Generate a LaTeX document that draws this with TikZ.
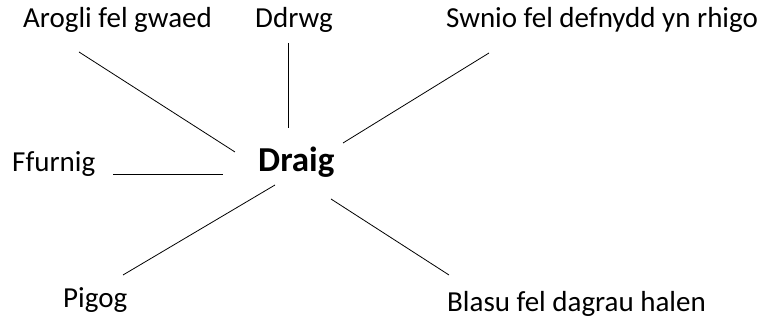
\documentclass[tikz,border=0pt]{standalone}
\usepackage{fontspec}
\setmainfont{Carlito}
\begin{document}
\begin{tikzpicture}[x=1pt,y=1pt,
  lbl/.style={inner sep=0pt,anchor=base west,font=\fontsize{29}{34}\selectfont},
  hub/.style={inner sep=0pt,anchor=base west,font=\fontsize{35}{40}\selectfont\bfseries},
  spoke/.style={line width=0.8pt,black}]
\useasboundingbox (0,0) rectangle (766,320);
\node[lbl] (arogli) at (23,292) {Arogli fel gwaed};
\node[lbl] (ddrwg) at (255,292) {Ddrwg};
\node[lbl] (swnio) at (446,292) {Swnio fel defnydd yn rhigo};
\node[lbl] (ffurnig) at (12,148) {Ffurnig};
\node[hub] (draig) at (258,148) {Draig};
\node[lbl] (pigog) at (63,12) {Pigog};
\node[lbl] (blasu) at (447,8) {Blasu fel dagrau halen};
\coordinate (a1) at (79,268); \coordinate (a2) at (235,168);
\coordinate (d1) at (288,277); \coordinate (d2) at (288,192);
\coordinate (s1) at (343,177); \coordinate (s2) at (489,267);
\coordinate (f1) at (113,146); \coordinate (f2) at (223,146);
\coordinate (p1) at (275,135); \coordinate (p2) at (123,45);
\coordinate (b1) at (331,121); \coordinate (b2) at (449,45);
\draw[spoke] (a1) -- (a2);
\draw[spoke] (d1) -- (d2);
\draw[spoke] (s1) -- (s2);
\draw[spoke] (f1) -- (f2);
\draw[spoke] (p1) -- (p2);
\draw[spoke] (b1) -- (b2);
\end{tikzpicture}
\end{document}
